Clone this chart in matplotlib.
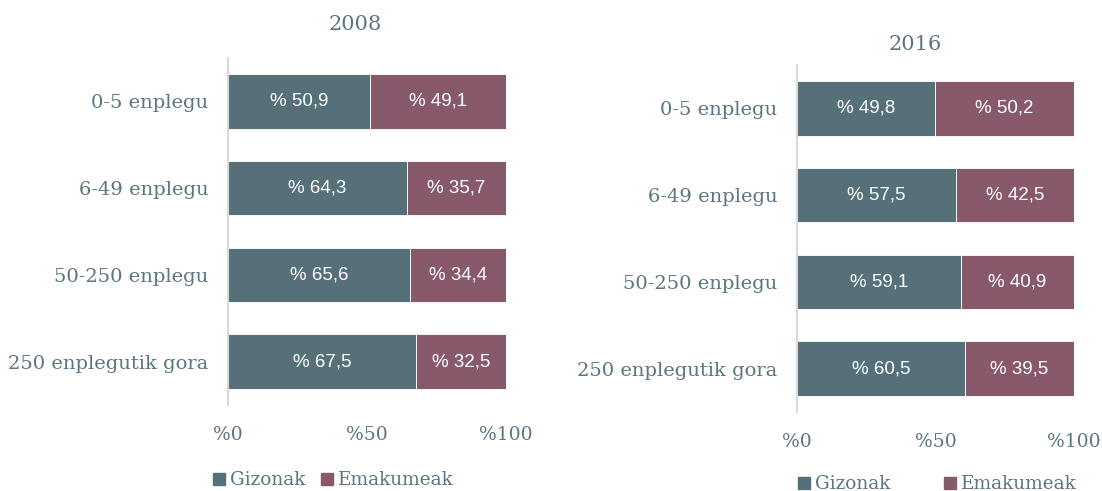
import numpy as np
import matplotlib.pyplot as plt
from matplotlib.lines import Line2D

categories = ['0-5 enplegu', '6-49 enplegu', '50-250 enplegu', '250 enplegutik gora']
gizonak_2008 = [50.9, 64.3, 65.6, 67.5]
emakumeak_2008 = [49.1, 35.7, 34.4, 32.5]
gizonak_2016 = [49.8, 57.5, 59.1, 60.5]
emakumeak_2016 = [50.2, 42.5, 40.9, 39.5]
xticks = [0, 50, 100]
xticklabels = ['%0', '%50', '%100']

c_giz = '#56707a'
c_ema = '#87596a'
c_txt = '#5c7580'
serif = 'DejaVu Serif'
sans = 'Liberation Sans'

fig = plt.figure(figsize=(11.02, 4.91), dpi=100)
ax1 = fig.add_axes([228/1102, 86/491, 278/1102, 347/491])
ax2 = fig.add_axes([797/1102, 79/491, 277/1102, 347/491])


def draw(ax, giz, ema):
    y = np.arange(len(categories))
    ax.barh(y, giz, height=0.63, color=c_giz, edgecolor='white', linewidth=0.6)
    ax.barh(y, ema, left=giz, height=0.63, color=c_ema, edgecolor='white', linewidth=0.6)
    for i in range(len(categories)):
        ax.text(giz[i]/2, y[i], '% ' + ('%.1f' % giz[i]).replace('.', ','),
                ha='center', va='center', color='white', fontsize=13.5, family=sans)
        ax.text(giz[i] + ema[i]/2, y[i], '% ' + ('%.1f' % ema[i]).replace('.', ','),
                ha='center', va='center', color='white', fontsize=13.5, family=sans)
    ax.set_xlim(0, 100)
    ax.set_ylim(len(categories) - 0.5, -0.5)
    ax.set_yticks(y)
    ax.set_yticklabels(categories, family=serif, fontsize=14, color=c_txt)
    ax.set_xticks(xticks)
    ax.set_xticklabels(xticklabels, family=serif, fontsize=13.5, color=c_txt)
    ax.tick_params(axis='both', length=0)
    ax.tick_params(axis='y', pad=14)
    ax.tick_params(axis='x', pad=15)
    for s in ['top', 'right', 'bottom']:
        ax.spines[s].set_visible(False)
    ax.spines['left'].set_color('#d9d9d9')
    ax.spines['left'].set_linewidth(1.5)


draw(ax1, gizonak_2008, emakumeak_2008)
draw(ax2, gizonak_2016, emakumeak_2016)

fig.text(355/1102, 1 - 24/491, '2008', ha='center', va='center', family=serif, fontsize=15, color=c_txt)
fig.text(915/1102, 1 - 44/491, '2016', ha='center', va='center', family=serif, fontsize=15, color=c_txt)

handles = [Line2D([], [], marker='s', linestyle='', color=c_giz, markersize=9),
           Line2D([], [], marker='s', linestyle='', color=c_ema, markersize=9)]
labels = ['Gizonak', 'Emakumeak']
leg1 = fig.legend(handles, labels, loc='center', bbox_to_anchor=(327/1102, 1 - 480/491), ncol=2,
                  frameon=False, handletextpad=-0.4, columnspacing=0.2,
                  prop={'family': serif, 'size': 13.3})
for t in leg1.get_texts():
    t.set_color(c_txt)
leg2 = fig.legend(handles, labels, loc='center', bbox_to_anchor=(931/1102, 1 - 484/491), ncol=2,
                  frameon=False, handletextpad=-0.4, columnspacing=2.2,
                  prop={'family': serif, 'size': 13.3})
for t in leg2.get_texts():
    t.set_color(c_txt)

fig.savefig('out.png', dpi=100)
